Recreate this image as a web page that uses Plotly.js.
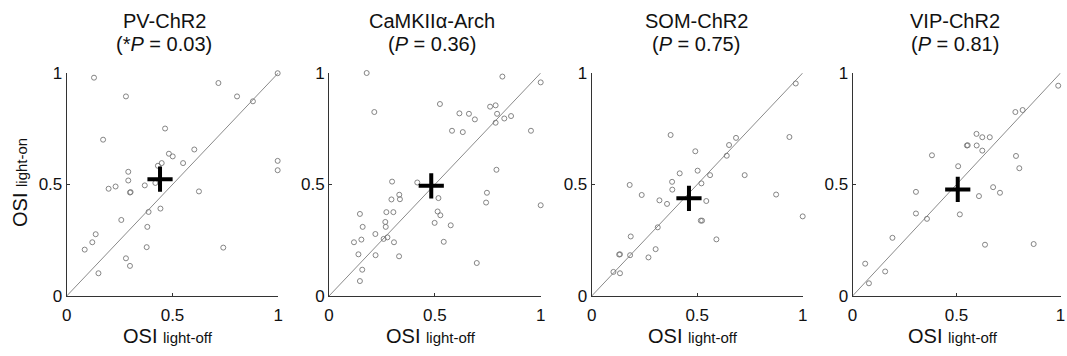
<!DOCTYPE html>
<html>
<head>
<meta charset="utf-8">
<script src="https://cdn.plot.ly/plotly-3.0.1.min.js"></script>
<style>html,body{margin:0;padding:0;background:#fff;}#chart{width:1067px;height:356px;}</style>
</head>
<body>
<div id="chart"></div>
<script>
// ---- Data ----
const panelNames = ['PV-ChR2', 'CaMKIIα-Arch', 'SOM-ChR2', 'VIP-ChR2'];
const pLabels = ['(*<i>P</i> = 0.03)', '(<i>P</i> = 0.36)', '(<i>P</i> = 0.75)', '(<i>P</i> = 0.81)'];
const tickVals = [0, 0.5, 1];
const tickText = ['0', '0.5', '1'];
const unityLine = [0, 1];

const pvOff = [0.129,0.280,0.717,0.805,0.880,0.997,0.172,0.465,0.603,0.483,0.501,0.550,0.449,0.431,0.291,0.291,0.231,0.198,0.369,0.419,0.299,0.302,0.625,0.997,0.997,0.387,0.443,0.258,0.381,0.137,0.121,0.085,0.378,0.740,0.280,0.299,0.150];
const pvOn  = [0.979,0.895,0.955,0.895,0.873,0.999,0.701,0.751,0.657,0.638,0.626,0.596,0.596,0.584,0.557,0.518,0.491,0.481,0.496,0.507,0.464,0.466,0.469,0.606,0.564,0.377,0.392,0.341,0.310,0.277,0.241,0.208,0.219,0.217,0.169,0.135,0.102];
const pvMean = [0.441, 0.524];

const camOff = [0.178,0.819,1.000,0.214,0.524,0.761,0.787,0.616,0.661,0.689,0.794,0.860,0.828,0.787,0.581,0.632,0.954,0.791,0.417,0.298,0.332,0.335,0.295,0.517,0.746,0.742,1.000,0.271,0.304,0.146,0.513,0.526,0.499,0.575,0.266,0.268,0.159,0.219,0.276,0.258,0.153,0.118,0.307,0.542,0.139,0.220,0.331,0.157,0.698,0.146];
const camOn  = [1.000,0.984,0.958,0.825,0.861,0.849,0.855,0.819,0.817,0.792,0.817,0.807,0.796,0.777,0.741,0.735,0.741,0.566,0.509,0.513,0.454,0.434,0.433,0.439,0.463,0.419,0.407,0.376,0.376,0.368,0.379,0.362,0.328,0.317,0.332,0.310,0.310,0.278,0.263,0.256,0.253,0.241,0.241,0.243,0.187,0.183,0.178,0.118,0.148,0.067];
const camMean = [0.483, 0.494];

const somOff = [0.967,0.374,0.937,0.684,0.651,0.640,0.491,0.502,0.417,0.561,0.725,0.381,0.520,0.180,0.382,0.237,0.874,0.321,0.357,0.543,1.000,0.517,0.523,0.313,0.591,0.185,0.130,0.134,0.182,0.303,0.269,0.103,0.134];
const somOn  = [0.953,0.722,0.713,0.709,0.677,0.629,0.649,0.562,0.550,0.542,0.542,0.512,0.505,0.498,0.477,0.453,0.455,0.429,0.413,0.426,0.357,0.338,0.338,0.308,0.254,0.267,0.186,0.187,0.183,0.210,0.173,0.108,0.102];
const somMean = [0.461, 0.438];

const vipOff = [0.989,0.783,0.818,0.596,0.624,0.660,0.550,0.554,0.597,0.624,0.382,0.786,0.508,0.802,0.305,0.676,0.709,0.608,0.305,0.358,0.516,0.192,0.637,0.871,0.061,0.157,0.079];
const vipOn  = [0.943,0.825,0.834,0.727,0.712,0.712,0.675,0.676,0.675,0.652,0.631,0.628,0.582,0.573,0.467,0.488,0.463,0.448,0.370,0.346,0.366,0.261,0.230,0.233,0.145,0.110,0.057];
const vipMean = [0.506, 0.478];

const offSeries = [pvOff, camOff, somOff, vipOff];
const onSeries = [pvOn, camOn, somOn, vipOn];
const means = [pvMean, camMean, somMean, vipMean];

// ---- Layout geometry (pixels) ----
const W = 1067, H = 356;
const xPix = [[66.7, 278.3], [329, 540.7], [591.7, 802.7], [852.5, 1060.5]];
const titleCx = [164, 432, 696, 955];
const yPix = [296, 73];

const traces = [];
const layout = {
  width: W, height: H,
  margin: {l: 0, r: 0, t: 0, b: 0},
  paper_bgcolor: '#fff', plot_bgcolor: '#fff',
  showlegend: false,
  font: {family: 'Liberation Sans, Arial, sans-serif', color: '#111'},
  annotations: []
};

const FONT = 'Liberation Sans, Arial, sans-serif';
for (let i = 0; i < 4; i++) {
  const s = i === 0 ? '' : String(i + 1);
  const xa = 'x' + s, ya = 'y' + s;
  traces.push({
    x: unityLine, y: unityLine, xaxis: xa, yaxis: ya,
    mode: 'lines', line: {color: '#8a8a8a', width: 1}, hoverinfo: 'skip'
  });
  traces.push({
    x: offSeries[i], y: onSeries[i], xaxis: xa, yaxis: ya,
    mode: 'markers', cliponaxis: false,
    marker: {symbol: 'circle-open', size: 5, color: '#777', line: {color: '#777', width: 0.9}}
  });
  traces.push({
    x: [means[i][0]], y: [means[i][1]], xaxis: xa, yaxis: ya,
    mode: 'markers', cliponaxis: false,
    marker: {symbol: 'cross-thin', size: 18, color: '#000', line: {color: '#000', width: 4}}
  });
  const axCommon = {
    range: [0, 1], showgrid: false, zeroline: false, showline: true,
    linecolor: '#333', linewidth: 1, ticks: 'inside', ticklen: 3, tickcolor: '#333',
    tickvals: tickVals, ticktext: tickText, fixedrange: true,
    ticklabeloverflow: 'allow',
    tickfont: {family: FONT, size: 17, color: '#111'}
  };
  layout['xaxis' + s] = Object.assign({}, axCommon, {
    domain: [xPix[i][0] / W, xPix[i][1] / W], anchor: ya, ticklabelstandoff: 4
  });
  layout['yaxis' + s] = Object.assign({}, axCommon, {
    domain: [(H - yPix[0]) / H, (H - yPix[1]) / H], anchor: xa, ticklabelstandoff: 0
  });
  layout.annotations.push({
    xref: 'paper', yref: 'paper', x: titleCx[i] / W, y: 1 - 21 / H,
    xanchor: 'center', yanchor: 'middle', showarrow: false,
    text: panelNames[i], font: {family: FONT, size: 20, color: '#111'}
  });
  layout.annotations.push({
    xref: 'paper', yref: 'paper', x: titleCx[i] / W, y: 1 - 44 / H,
    xanchor: 'center', yanchor: 'middle', showarrow: false,
    text: pLabels[i], font: {family: FONT, size: 20, color: '#111'}
  });
  layout.annotations.push({
    xref: 'paper', yref: 'paper', x: (xPix[i][0] + xPix[i][1]) / 2 / W - 4 / W, y: 1 - 336 / H,
    xanchor: 'center', yanchor: 'middle', showarrow: false,
    text: 'OSI <span style="font-size:15px">light-off</span>', font: {family: FONT, size: 20, color: '#111'}
  });
}
layout.annotations.push({
  xref: 'paper', yref: 'paper', x: 20 / W, y: (H - 183) / H,
  xanchor: 'center', yanchor: 'middle', showarrow: false, textangle: -90,
  text: 'OSI <span style="font-size:15px">light-on</span>', font: {family: FONT, size: 20, color: '#111'}
});

Plotly.newPlot('chart', traces, layout, {displayModeBar: false, staticPlot: true});
</script>
</body>
</html>
